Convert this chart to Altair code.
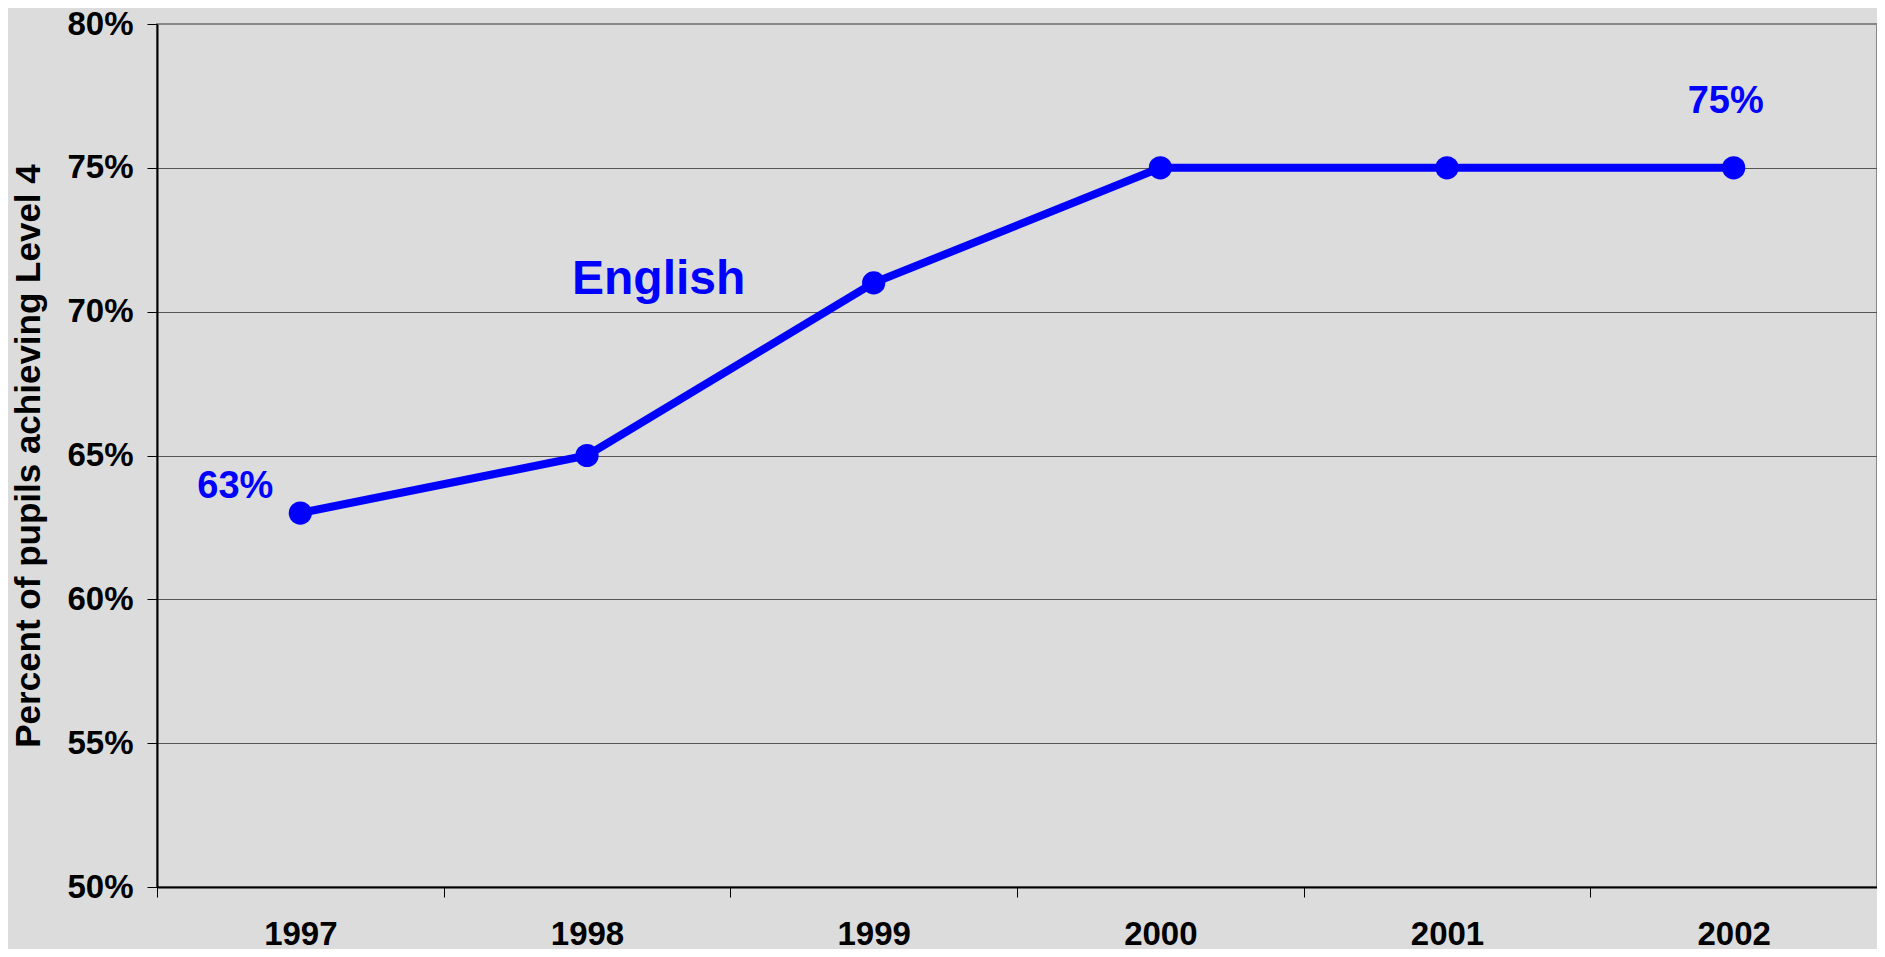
import altair as alt
import pandas as pd

years = [1997, 1998, 1999, 2000, 2001, 2002]
english = [0.63, 0.65, 0.71, 0.75, 0.75, 0.75]

end_years = [1997, 2002]
end_values = [0.63, 0.75]
end_text = ["63%", "75%"]
end_dx = [-65, -8]
end_dy = [-15, -55]

series_name = ["English"]
series_x = [1998.25]
series_y = [0.711]

x_tick_values = [1996.5, 1997, 1997.5, 1998, 1998.5, 1999, 1999.5, 2000, 2000.5,
                 2001, 2001.5, 2002, 2002.5]
y_tick_values = [0.5, 0.55, 0.6, 0.65, 0.7, 0.75, 0.8]

df = pd.DataFrame({"year": years, "value": english})
ends = pd.DataFrame({"year": end_years, "value": end_values, "text": end_text,
                     "dx": end_dx, "dy": end_dy})
names = pd.DataFrame({"year": series_x, "value": series_y, "text": series_name})

FONT = "Liberation Sans"
BLUE = "#0000FF"

x_enc = alt.X(
    "year:Q",
    scale=alt.Scale(domain=[1996.5, 2002.5], nice=False, zero=False),
    axis=alt.Axis(
        values=x_tick_values,
        labelExpr="datum.value % 1 == 0 ? '' + datum.value : ''",
        title=None,
        grid=False,
        tickSize=10,
        tickColor="black",
        tickWidth=1,
        tickOpacity={"condition": {"test": "datum.value % 1 != 0", "value": 1}, "value": 0},
        domainColor="black",
        domainWidth=2,
        labelFont=FONT,
        labelFontSize=33,
        labelFontWeight="bold",
        labelColor="black",
        labelPadding=21,
        labelBaseline="top",
    ),
)

y_enc = alt.Y(
    "value:Q",
    scale=alt.Scale(domain=[0.5, 0.8], nice=False, zero=False),
    axis=alt.Axis(
        values=y_tick_values,
        format=".0%",
        title="Percent of pupils achieving Level 4",
        titleFont=FONT,
        titleFontSize=35,
        titleFontWeight="bold",
        titleColor="black",
        titlePadding=20,
        grid=True,
        gridColor="#555555",
        gridWidth=1,
        gridOpacity={"condition": {"test": "datum.value >= 0.8", "value": 0}, "value": 1},
        tickSize=10,
        tickColor="black",
        tickWidth=1,
        domainColor="black",
        domainWidth=2,
        labelFont=FONT,
        labelFontSize=33,
        labelFontWeight="bold",
        labelColor="black",
        labelPadding=14,
    ),
)

line = alt.Chart(df).mark_line(color=BLUE, strokeWidth=8).encode(x=x_enc, y=y_enc)
pts = alt.Chart(df).mark_point(filled=True, color=BLUE, size=540, opacity=1).encode(
    x="year:Q", y="value:Q"
)

lbl1 = alt.Chart(ends.iloc[[0]]).mark_text(
    font=FONT, fontSize=38, fontWeight="bold", color=BLUE, dx=end_dx[0], dy=end_dy[0],
    align="center", baseline="alphabetic"
).encode(x="year:Q", y="value:Q", text="text:N")
lbl2 = alt.Chart(ends.iloc[[1]]).mark_text(
    font=FONT, fontSize=38, fontWeight="bold", color=BLUE, dx=end_dx[1], dy=end_dy[1],
    align="center", baseline="alphabetic"
).encode(x="year:Q", y="value:Q", text="text:N")

name_lbl = alt.Chart(names).mark_text(
    font=FONT, fontSize=48, fontWeight="bold", color=BLUE, align="center", baseline="middle"
).encode(x="year:Q", y="value:Q", text="text:N")

chart = (
    alt.layer(line, pts, lbl1, lbl2, name_lbl)
    .properties(
        width=1720,
        height=863,
        background="#DCDCDC",
        padding={"left": 149, "top": 16, "right": 0, "bottom": 62},
        autosize=alt.AutoSizeParams(type="none"),
    )
    .configure_view(stroke="#888888", strokeWidth=2, fill="#DCDCDC")
)

chart.save("out.html", embed_options={"renderer": "svg", "actions": False})
